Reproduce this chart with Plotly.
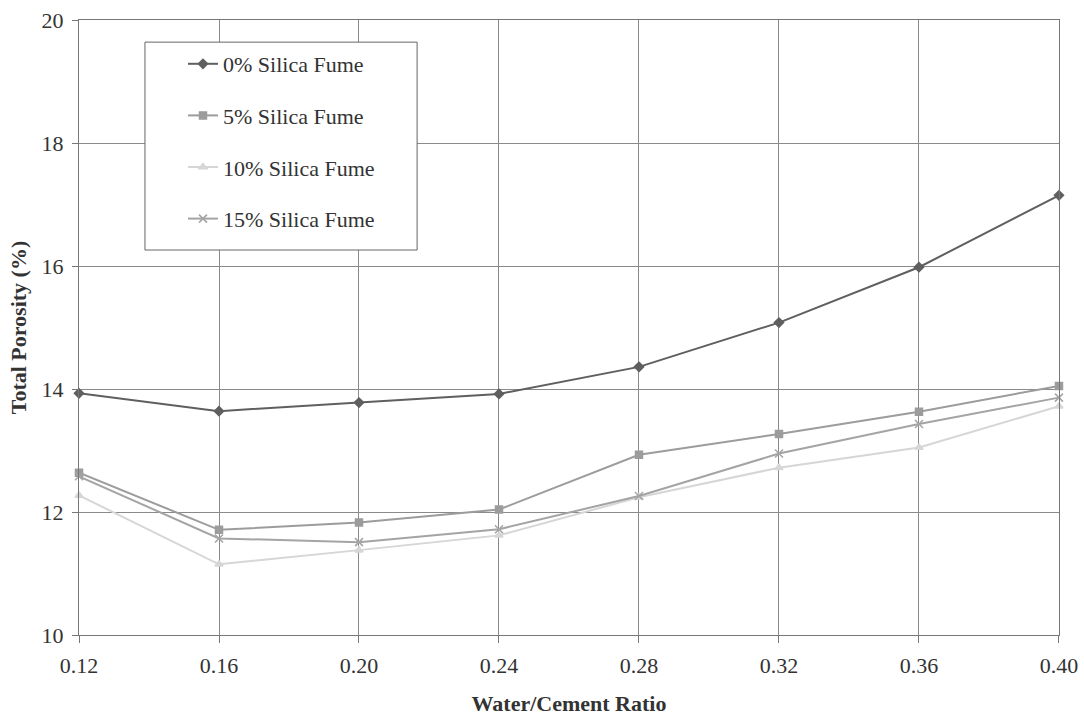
import plotly.graph_objects as go

x_vals = [0.12, 0.16, 0.20, 0.24, 0.28, 0.32, 0.36, 0.40]
x_ticklabels = ["0.12", "0.16", "0.20", "0.24", "0.28", "0.32", "0.36", "0.40"]
sf0 = [13.93, 13.64, 13.78, 13.92, 14.36, 15.08, 15.98, 17.15]
sf5 = [12.64, 11.71, 11.83, 12.04, 12.93, 13.27, 13.63, 14.05]
sf10 = [12.27, 11.15, 11.38, 11.62, 12.24, 12.72, 13.05, 13.72]
sf15 = [12.58, 11.57, 11.51, 11.72, 12.26, 12.95, 13.43, 13.86]
y_ticks = [10, 12, 14, 16, 18, 20]

series = [
    ("0% Silica Fume", sf0, "#5f5f5f", "diamond", 7),
    ("5% Silica Fume", sf5, "#9c9c9c", "square", 7),
    ("10% Silica Fume", sf10, "#d6d6d6", "triangle-up", 7),
    ("15% Silica Fume", sf15, "#a4a4a4", "x-thin-open", 8),
]

fig = go.Figure()
for i, (name, vals, col, sym, sz) in enumerate(series):
    fig.add_trace(go.Scatter(
        x=x_vals, y=vals, name=name, mode="lines+markers",
        line=dict(color=col, width=2),
        marker=dict(symbol=sym, size=sz, color=col, line=dict(color=col, width=1.5)),
        legendgroup="g%d" % i, cliponaxis=False,
    ))

font_family = "Liberation Serif"
fig.add_shape(
    type="rect", xref="paper", yref="paper",
    x0=0.0673, x1=0.345, y0=0.626, y1=0.964,
    line=dict(color="#666666", width=1), fillcolor="white", layer="above",
)
fig.update_layout(
    width=1084, height=724,
    margin=dict(l=79, r=25, t=20, b=89),
    paper_bgcolor="white", plot_bgcolor="white",
    font=dict(family=font_family, size=22, color="#333333"),
    showlegend=True,
    legend=dict(
        x=0.1061, y=0.9626, xanchor="left", yanchor="top",
        bgcolor="rgba(0,0,0,0)", borderwidth=0,
        font=dict(family=font_family, size=22, color="#333333"),
        tracegroupgap=20, itemwidth=30,
    ),
    xaxis=dict(
        range=[0.12, 0.40001], tickvals=x_vals, ticktext=x_ticklabels,
        showgrid=True, gridcolor="#8a8a8a", gridwidth=1,
        showline=True, linecolor="#777777", linewidth=1, mirror=True,
        ticks="outside", ticklen=7, tickcolor="#777777",
        zeroline=False, tickfont=dict(size=22), ticklabeloverflow="allow",
        ticklabelstandoff=4, automargin=False,
        title=dict(text="<b>Water/Cement Ratio</b>", font=dict(size=22, family=font_family, color="#333333"), standoff=18),
    ),
    yaxis=dict(
        range=[10, 20], tickvals=y_ticks,
        showgrid=True, gridcolor="#8a8a8a", gridwidth=1,
        showline=True, linecolor="#777777", linewidth=1, mirror=True,
        ticks="outside", ticklen=6, tickcolor="#777777",
        zeroline=False, tickfont=dict(size=22), ticklabelstandoff=4,
        ticklabeloverflow="allow", automargin=False,
        title=dict(text="<b>Total Porosity (%)</b>", font=dict(size=22, family=font_family, color="#333333"), standoff=8),
    ),
)

fig.write_html("out.html")
